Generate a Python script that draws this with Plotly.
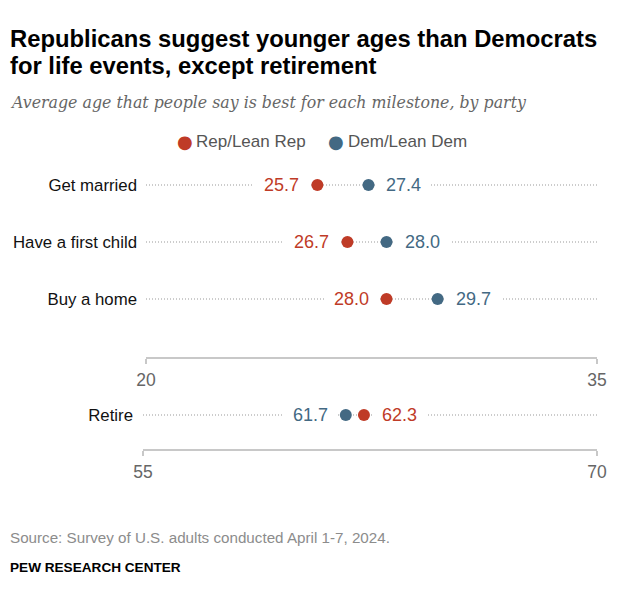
import plotly.graph_objects as go

# Data
events = ["Get married", "Have a first child", "Buy a home"]
rep_vals = [25.7, 26.7, 28.0]
dem_vals = [27.4, 28.0, 29.7]

retire_label = ["Retire"]
retire_rep = [62.3]
retire_dem = [61.7]

top_range = [20, 35]
bottom_range = [55, 70]

REP = "#bf3b27"
DEM = "#436983"
DOT_LINE = "#9a9a9a"
AXIS = "#c8c8c8"
FONT = "Liberation Sans"

# the page body adds an 8px margin, so the figure is drawn 8px in
OFF = 8
W, H = 640 - OFF, 603 - OFF


def px(x):
    return (x - OFF) / W


def py(y):
    return 1 - (y - OFF) / H


fig = go.Figure()


def add_rows(reps, dems, rng, xa, ya):
    for i, (r, d) in enumerate(zip(reps, dems)):
        # dotted guide line across the axis range
        fig.add_trace(go.Scatter(
            x=rng, y=[i, i], mode="lines", xaxis=xa, yaxis=ya,
            line=dict(color=DOT_LINE, width=1.2, dash="1px,2px"),
            showlegend=False, hoverinfo="skip"
        ))
        fig.add_trace(go.Scatter(
            x=[r, d], y=[i, i], mode="markers", xaxis=xa, yaxis=ya,
            marker=dict(color=[REP, DEM], size=12), showlegend=False
        ))
        # value labels: lower value on the left, higher on the right
        for val, col in [(r, REP), (d, DEM)]:
            left = val == min(r, d)
            fig.add_annotation(
                x=val, y=i, xref=xa, yref=ya, text=f"{val:.1f}",
                showarrow=False, xanchor="right" if left else "left",
                xshift=-8 if left else 8, bgcolor="white", borderpad=10,
                borderwidth=0,
                font=dict(family=FONT, size=18, color=col)
            )


add_rows(rep_vals, dem_vals, top_range, "x", "y")
add_rows(retire_rep, retire_dem, bottom_range, "x2", "y2")

axis_common = dict(
    showline=True, linecolor=AXIS, linewidth=1.5, ticks="outside",
    ticklen=5, tickcolor=AXIS, tickwidth=1.5, showgrid=False, zeroline=False,
    tickfont=dict(family=FONT, size=17.5, color="#666666"),
    ticklabelstandoff=1, automargin=False
)
yaxis_common = dict(
    showline=False, showgrid=False, zeroline=False, ticks="",
    tickfont=dict(family=FONT, size=16.8, color="#111111"), automargin=False
)

fig.update_layout(
    width=W, height=H,
    margin=dict(l=0, r=0, t=0, b=0, autoexpand=False),
    paper_bgcolor="white", plot_bgcolor="white",
    showlegend=False,
    xaxis=dict(domain=[px(146), px(597)], range=top_range, anchor="y",
               tickvals=top_range, **axis_common),
    yaxis=dict(domain=[py(357), py(165)], range=[(357 - 185) / 57, -20 / 57],
               tickvals=list(range(len(events))), ticktext=events,
               ticklabelstandoff=8, **yaxis_common),
    xaxis2=dict(domain=[px(143), px(597)], range=bottom_range, anchor="y2",
                tickvals=bottom_range, **axis_common),
    yaxis2=dict(domain=[py(449), py(401)], range=[34 / 57, -14 / 57],
                tickvals=[0], ticktext=retire_label,
                ticklabelstandoff=12, **yaxis_common),
)

# Title, subtitle, legend, footer
title_lines = ["Republicans suggest younger ages than Democrats",
               "for life events, except retirement"]
for line, ypx in zip(title_lines, [38, 65.5]):
    fig.add_annotation(
        xref="paper", yref="paper", x=0, y=py(ypx), xanchor="left", yanchor="middle",
        showarrow=False, text=f"<b>{line}</b>",
        font=dict(family=FONT, size=23.8, color="#000000")
    )
fig.add_annotation(
    xref="paper", yref="paper", x=0, y=py(102), xanchor="left", yanchor="middle",
    showarrow=False,
    text="<i>Average age that people say is best for each milestone, by party</i>",
    font=dict(family="DejaVu Serif", size=15.8, color="#666666")
)
legend_items = [("Rep/Lean Rep", REP, 184.5), ("Dem/Lean Dem", DEM, 336)]
for name, col, xpx in legend_items:
    fig.add_annotation(
        xref="paper", yref="paper", x=px(xpx), y=py(141), xanchor="center", yanchor="middle",
        showarrow=False, text="●",
        font=dict(family="DejaVu Sans", size=18, color=col)
    )
    fig.add_annotation(
        xref="paper", yref="paper", x=px(xpx + 9.5), y=py(141), xanchor="left", yanchor="middle",
        showarrow=False, text=name,
        font=dict(family=FONT, size=17, color="#555555")
    )
fig.add_annotation(
    xref="paper", yref="paper", x=0, y=py(537), xanchor="left", yanchor="middle",
    showarrow=False, text="Source: Survey of U.S. adults conducted April 1-7, 2024.",
    font=dict(family=FONT, size=15.2, color="#8c8c8c")
)
fig.add_annotation(
    xref="paper", yref="paper", x=0, y=py(567), xanchor="left", yanchor="middle",
    showarrow=False, text="<b>PEW RESEARCH CENTER</b>",
    font=dict(family=FONT, size=13.6, color="#000000")
)

fig.write_html("out.html")
